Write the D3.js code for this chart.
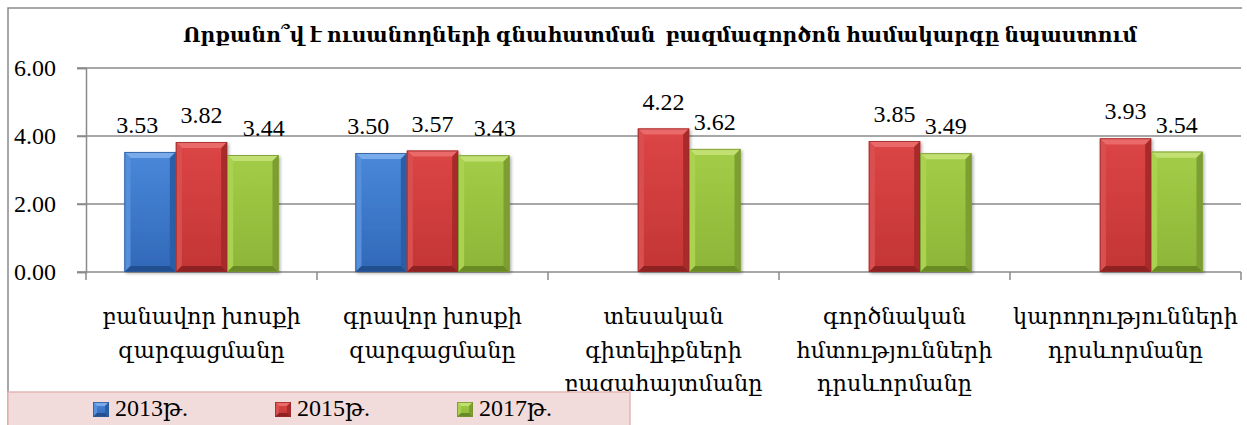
<!DOCTYPE html>
<html>
<head>
<meta charset="utf-8">
<script src="https://cdn.jsdelivr.net/npm/d3@7"></script>
<style>
  body { margin: 0; background: #fff; }
  svg { display: block; }
</style>
</head>
<body>
<div id="chart"></div>
<script>
// chart data
const title = "Որքանո՞վ է ուսանողների գնահատման  բազմագործոն համակարգը նպաստում";
const categories = ["c1", "c2", "c3", "c4", "c5"];
const categoryLines = [
	["բանավոր խոսքի", "զարգացմանը"],
	["գրավոր խոսքի", "զարգացմանը"],
	["տեսական", "գիտելիքների", "բացահայտմանը"],
	["գործնական", "հմտությունների", "դրսևորմանը"],
	["կարողությունների", "դրսևորմանը"]
];
const seriesNames = ["2013թ.", "2015թ.", "2017թ."];
const values2013 = [3.53, 3.50, null, null, null];
const values2015 = [3.82, 3.57, 4.22, 3.85, 3.93];
const values2017 = [3.44, 3.43, 3.62, 3.49, 3.54];
const yTicks = [0, 2, 4, 6];
const yTickLabels = ["0.00", "2.00", "4.00", "6.00"];

const allValues = [values2013, values2015, values2017];

// bevel colours for each series
const palette = [
	{ face: ["#4a88da", "#3168b8"], top: "#79aaea", left: "#5790dc", right: "#2c5ea8", bottom: "#24508f", edge: "#2b5a9c" },
	{ face: ["#dc4545", "#c33535"], top: "#ea6a6a", left: "#d95050", right: "#a92a2a", bottom: "#8e2222", edge: "#9c2a2a" },
	{ face: ["#a3cd48", "#8db538"], top: "#c2e072", left: "#aad250", right: "#7d9f30", bottom: "#6a8a28", edge: "#76952e" }
];

const W = 1247, H = 425;
const plot = { left: 86, right: 1241, top: 68, bottom: 272 };

// pick the first installed font from a list (compare against monospace)
function firstFont(list) {
	const probe = d3.select("body").append("svg").append("text").attr("font-size", 40).text("0.00 Որքան թ");
	const base = probe.attr("font-family", "monospace").node().getComputedTextLength();
	let found = null;
	for (const f of list) {
		const w = probe.attr("font-family", `'${f}', monospace`).node().getComputedTextLength();
		if (Math.abs(w - base) > 0.5) { found = f; break; }
	}
	d3.select(probe.node().parentNode).remove();
	return found;
}
const serifName = firstFont(["Liberation Serif", "Tinos", "Times New Roman", "DejaVu Serif"]) || "serif";
const numFont = `'${serifName}', serif`;
const armFont = `'${serifName}', 'DejaVu Serif', serif`;
const lineColor = "#8a8a8a";

const svg = d3.select("#chart").append("svg")
	.attr("width", W)
	.attr("height", H)
	.attr("viewBox", [0, 0, W, H]);

const defs = svg.append("defs");
palette.forEach(function (c, i) {
	const g = defs.append("linearGradient")
		.attr("id", "face" + i)
		.attr("x1", 0).attr("y1", 0).attr("x2", 0).attr("y2", 1);
	g.append("stop").attr("offset", "0%").attr("stop-color", c.face[0]);
	g.append("stop").attr("offset", "100%").attr("stop-color", c.face[1]);
});
const shadow = defs.append("filter").attr("id", "shadow")
	.attr("x", "-20%").attr("y", "-20%").attr("width", "140%").attr("height", "140%");
shadow.append("feDropShadow")
	.attr("dx", 1.5).attr("dy", 1.5).attr("stdDeviation", 1.5)
	.attr("flood-color", "#000").attr("flood-opacity", 0.3);

// outer frame (left and top only)
svg.append("path")
	.attr("d", `M8,${H} L8,8 L1242,8`)
	.attr("fill", "none")
	.attr("stroke", lineColor)
	.attr("stroke-width", 1.5);

// scales
const x = d3.scaleBand()
	.domain(categories)
	.range([plot.left, plot.right])
	.paddingInner(0).paddingOuter(0);

const xs = d3.scaleBand()
	.domain(seriesNames)
	.range([0, x.bandwidth()])
	.paddingInner(0).paddingOuter(0.75);

const y = d3.scaleLinear()
	.domain([0, 6])
	.range([plot.bottom, plot.top]);

// gridlines
svg.append("g")
	.selectAll("line")
	.data(yTicks.filter(d => d > 0))
	.enter().append("line")
	.attr("x1", plot.left - 9).attr("x2", plot.right)
	.attr("y1", d => y(d)).attr("y2", d => y(d))
	.attr("stroke", lineColor)
	.attr("stroke-width", 1.5);

// y axis
const yAxis = svg.append("g")
	.attr("transform", `translate(${plot.left},0)`)
	.call(d3.axisLeft(y)
		.tickValues(yTicks)
		.tickFormat((d, i) => yTickLabels[i])
		.tickSize(9)
		.tickPadding(21));
yAxis.attr("font-family", null).attr("font-size", null);
yAxis.select(".domain").attr("stroke", lineColor).attr("stroke-width", 1.5);
yAxis.selectAll(".tick line").attr("stroke", lineColor).attr("stroke-width", 1.5);
yAxis.selectAll(".tick text")
	.attr("font-family", numFont)
	.attr("font-size", 24)
	.attr("fill", "#000");

// category axis line and boundary ticks
svg.append("line")
	.attr("x1", plot.left - 9).attr("x2", plot.right)
	.attr("y1", plot.bottom).attr("y2", plot.bottom)
	.attr("stroke", lineColor).attr("stroke-width", 1.5);
const boundaries = categories.map(c => x(c)).concat([x(categories[categories.length - 1]) + x.bandwidth()]);
svg.append("g")
	.selectAll("line")
	.data(boundaries)
	.enter().append("line")
	.attr("x1", d => d).attr("x2", d => d)
	.attr("y1", plot.bottom).attr("y2", plot.bottom + 8)
	.attr("stroke", lineColor).attr("stroke-width", 1.5);

// bevelled bar
function drawBevel(g, bx, by, w, h, c, i, b) {
	b = Math.min(b, h / 2, w / 2);
	const pts = p => p.map(q => q.join(",")).join(" ");
	g.append("rect")
		.attr("x", bx).attr("y", by).attr("width", w).attr("height", h)
		.attr("fill", "url(#face" + i + ")");
	g.append("polygon").attr("points", pts([[bx, by], [bx + w, by], [bx + w - b, by + b], [bx + b, by + b]])).attr("fill", c.top);
	g.append("polygon").attr("points", pts([[bx, by], [bx + b, by + b], [bx + b, by + h - b], [bx, by + h]])).attr("fill", c.left);
	g.append("polygon").attr("points", pts([[bx + w, by], [bx + w, by + h], [bx + w - b, by + h - b], [bx + w - b, by + b]])).attr("fill", c.right);
	g.append("polygon").attr("points", pts([[bx, by + h], [bx + b, by + h - b], [bx + w - b, by + h - b], [bx + w, by + h]])).attr("fill", c.bottom);
	g.append("rect")
		.attr("x", bx + 0.4).attr("y", by + 0.4).attr("width", w - 0.8).attr("height", h - 0.8)
		.attr("fill", "none").attr("stroke", c.edge).attr("stroke-width", 0.8);
}

// bars
const barData = [];
allValues.forEach(function (vals, s) {
	vals.forEach(function (v, k) {
		if (v !== null) barData.push({ cat: categories[k], k: k, s: s, v: v });
	});
});

const bars = svg.append("g").attr("id", "bars");
barData.forEach(function (d) {
	const g = bars.append("g").attr("filter", "url(#shadow)");
	const bx = x(d.cat) + xs(seriesNames[d.s]);
	drawBevel(g, bx, y(d.v), xs.bandwidth(), y(0) - y(d.v), palette[d.s], d.s, 6);
});

// data labels; in a crowded group of three the outer labels move outward
svg.append("g")
	.selectAll("text")
	.data(barData)
	.enter().append("text")
	.attr("x", function (d) {
		let cx = x(d.cat) + xs(seriesNames[d.s]) + xs.bandwidth() / 2;
		const crowded = allValues.every(vals => vals[d.k] !== null);
		if (crowded && d.s === 0) cx -= 13;
		if (crowded && d.s === 2) cx += 11;
		return cx;
	})
	.attr("y", d => y(d.v) - 19)
	.attr("text-anchor", "middle")
	.attr("font-family", numFont)
	.attr("font-size", 24)
	.text(d => d.v.toFixed(2));

// category labels
const catLabels = svg.append("g")
	.selectAll("text")
	.data(categories)
	.enter().append("text")
	.attr("text-anchor", "middle")
	.attr("font-family", armFont)
	.attr("font-size", 20);
catLabels.each(function (c, k) {
	const t = d3.select(this);
	categoryLines[k].forEach(function (line, j) {
		t.append("tspan")
			.attr("x", x(c) + x.bandwidth() / 2)
			.attr("y", 324 + j * 33.5)
			.text(line);
	});
});
// fit the widest label line to the reference width
let widest = 0;
catLabels.selectAll("tspan").each(function () {
	widest = Math.max(widest, this.getComputedTextLength());
});
catLabels.attr("font-size", 20 * 225 / widest);

// title
const titleText = svg.append("text")
	.attr("x", 660)
	.attr("y", 42)
	.attr("text-anchor", "middle")
	.attr("font-family", armFont)
	.attr("font-weight", "bold")
	.attr("font-size", 22)
	.style("white-space", "pre")
	.text(title);
const tw = titleText.node().getComputedTextLength();
titleText.attr("font-size", 22 * 955 / tw);

// legend
svg.append("rect")
	.attr("x", 8).attr("y", 392)
	.attr("width", 622).attr("height", 40)
	.attr("fill", "#f2dcdb")
	.attr("stroke", "#e3b6b5")
	.attr("stroke-width", 1.5);

const legendX = d3.scalePoint()
	.domain(seriesNames)
	.range([93, 457]);

const legend = svg.append("g")
	.selectAll("g")
	.data(seriesNames)
	.enter().append("g")
	.attr("transform", d => `translate(${legendX(d)},402)`);
legend.each(function (d, i) {
	drawBevel(d3.select(this), 0, 0, 16, 15, palette[i], i, 4);
});
legend.append("text")
	.attr("x", 22)
	.attr("y", 14)
	.attr("font-family", armFont)
	.attr("font-size", 24)
	.text(d => d);
</script>
</body>
</html>
